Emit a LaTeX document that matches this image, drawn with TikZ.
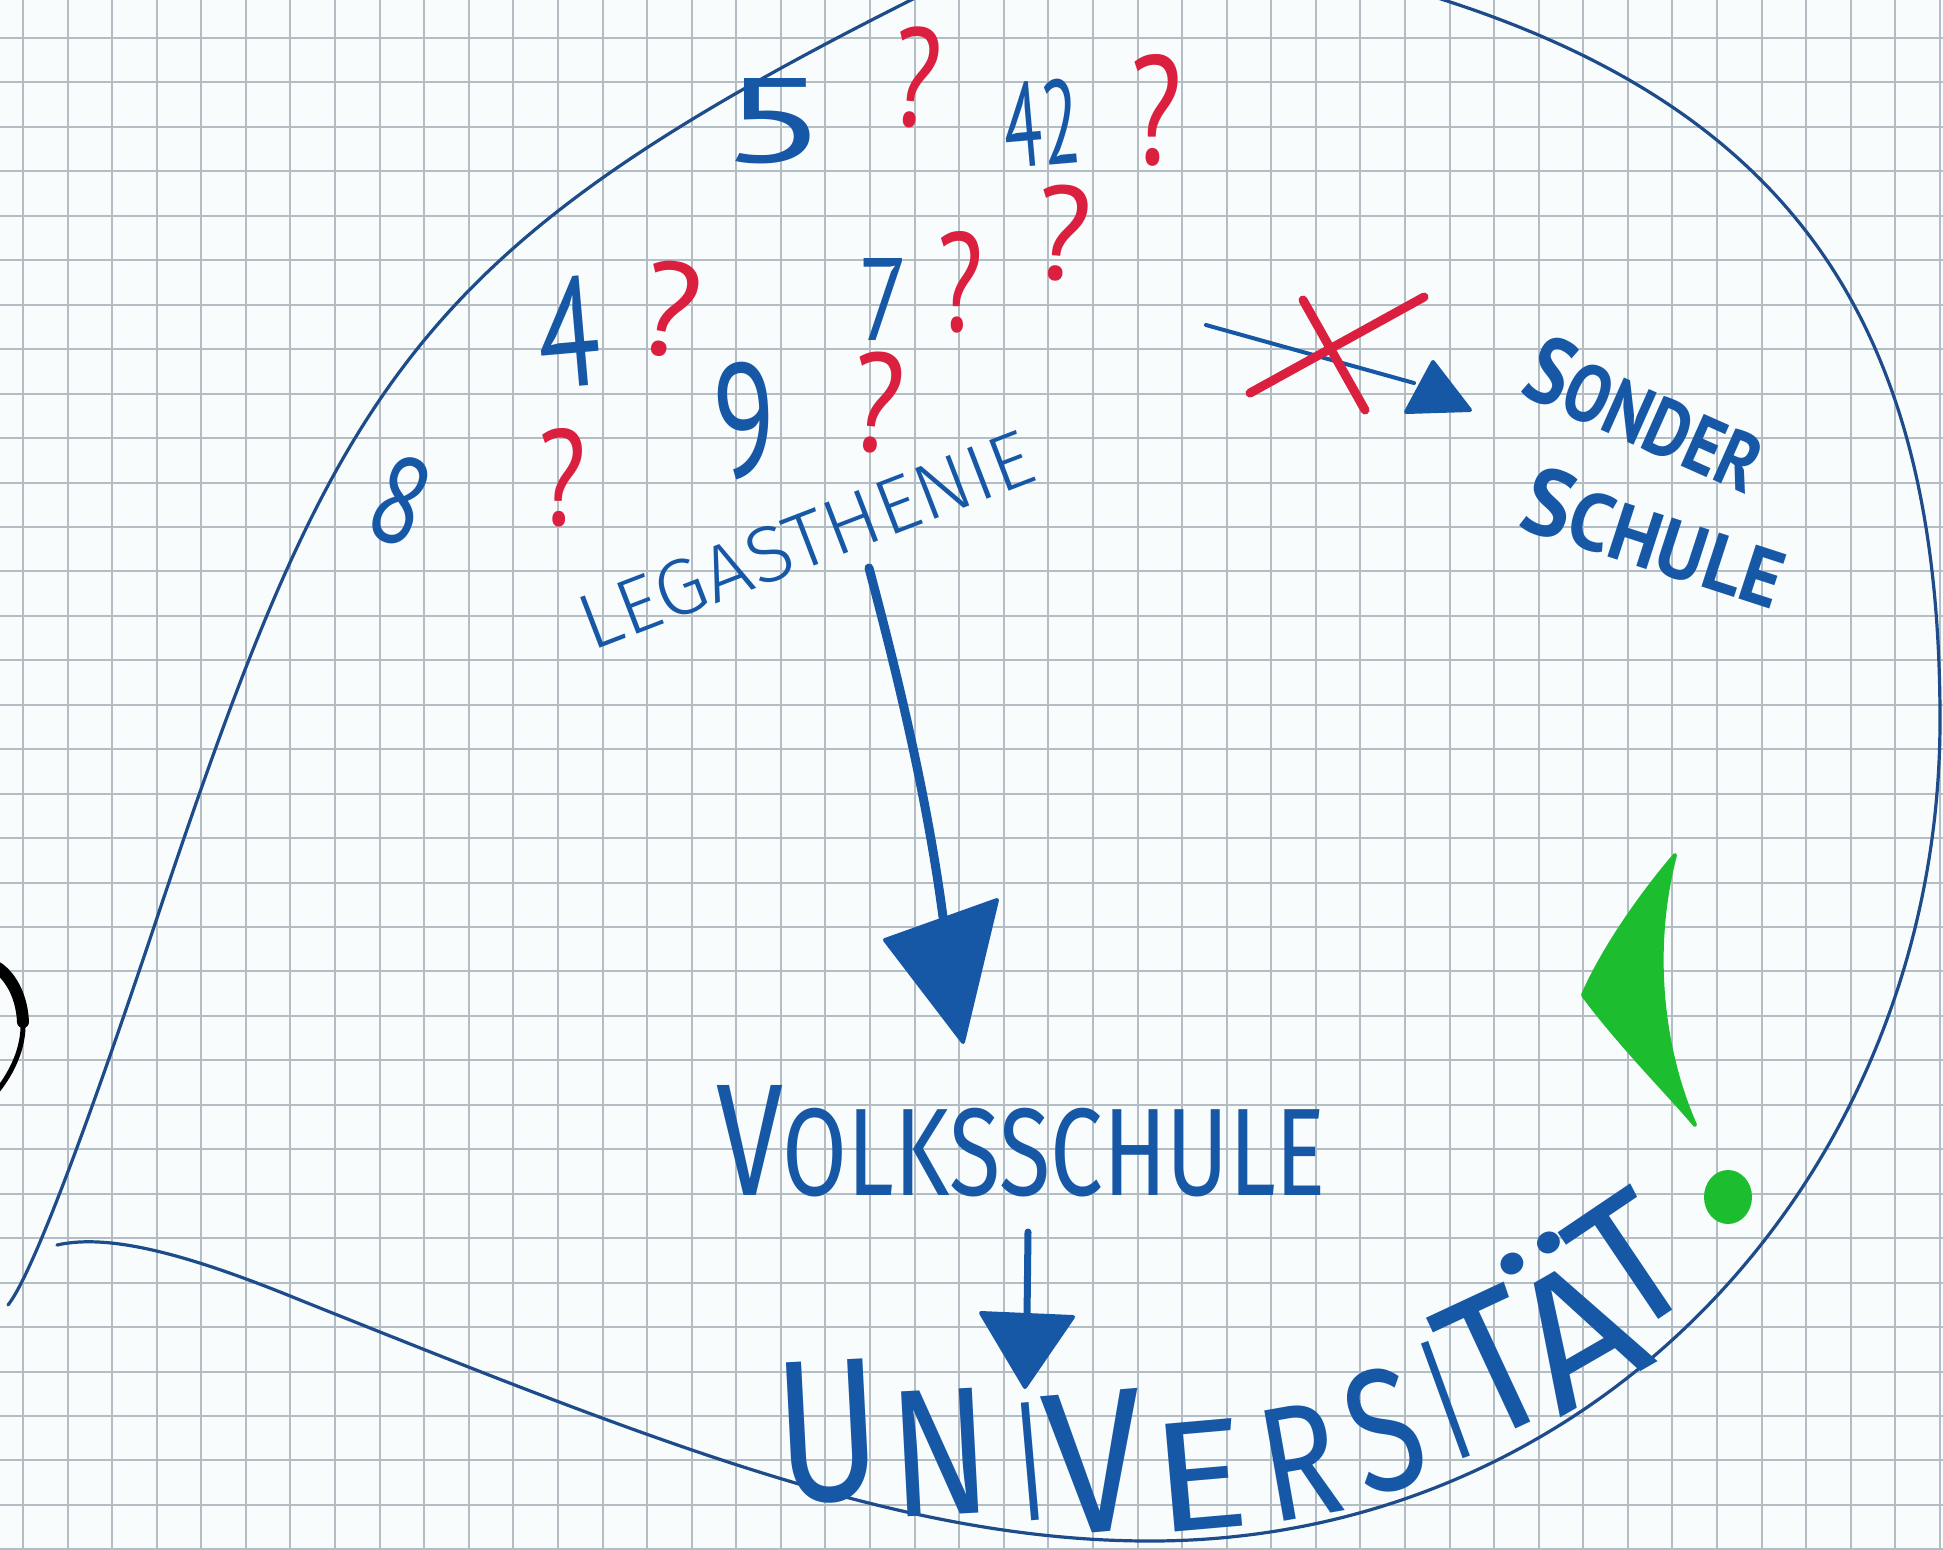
\documentclass[tikz,border=0pt]{standalone}
\usepackage{fontspec}
\usepackage{graphicx}
\newfontfamily\hand{PT Sans}
\IfFontExistsTF{Fira Sans Light}{\newfontfamily\thin{Fira Sans Light}}{\newfontfamily\thin{PT Sans}}
\IfFontExistsTF{Fira Sans Book}{\newfontfamily\book{Fira Sans Book}}{\newfontfamily\book{Fira Sans}}
\newfontfamily\medi{Fira Sans}
\newlength\pxu
\setlength\pxu{0.5pt}
\newcommand\fitb[3]{\resizebox{#1\pxu}{#2\pxu}{#3}}
\definecolor{paper}{RGB}{249,252,253}
\definecolor{gridc}{RGB}{180,189,196}
\definecolor{bubc}{RGB}{30,76,138}
\definecolor{inkblue}{RGB}{22,88,166}
\definecolor{inkred}{RGB}{218,32,62}
\definecolor{inkgreen}{RGB}{28,190,48}
\begin{document}
\begin{tikzpicture}[x=0.5pt,y=-0.5pt,
  gridline/.style={draw=gridc, line width=1pt},
  bubble/.style={draw=bubc, line width=1.6pt, line cap=round, line join=round},
  txt/.style={inner sep=0pt, outer sep=0pt, text=inkblue, font=\hand},
  thintxt/.style={txt, font=\thin},
  unitxt/.style={txt, font=\book},
  qm/.style={txt, text=inkred},
  arrowline/.style={draw=inkblue, line cap=round},
  tipfill/.style={fill=inkblue, draw=inkblue, line join=round, line width=2pt},
  cross/.style={draw=inkred, line width=4.5pt, line cap=round}]
\useasboundingbox (0,0) rectangle (1943,1549);
\fill[paper] (0,0) rectangle (1943,1549);
\begin{scope}
\clip (0,0) rectangle (1943,1549);
% grid paper
\foreach \i in {0,...,43} \draw[gridline] ({23+44.58*\i},0) -- ({23+44.58*\i},1549);
\foreach \j in {0,...,34} \draw[gridline] (0,{38+44.45*\j}) -- (1943,{38+44.45*\j});
% speech bubble
\draw[bubble] (1000,-45) -- (911,0) .. controls (420,247) and (338,379) .. (163,900)
  .. controls (122,1023) and (40,1265) .. (8,1305);
\draw[bubble] (57,1245) .. controls (110,1233) and (190,1255) .. (300,1300)
  .. controls (650,1440) and (900,1541) .. (1150,1541)
  .. controls (1600,1541) and (1940,1170) .. (1940,720)
  .. controls (1940,340) and (1805,116) .. (1444,0) -- (1350,-30);
% black figure at the left edge
\draw[black, line width=6pt, line cap=round] (-2,968) .. controls (12,978) and (22,998) .. (23,1022);
\draw[black, line width=2.5pt, line cap=round] (23,1022) .. controls (24,1048) and (12,1072) .. (-2,1090);
% numbers and question marks
\node[txt] (n5) at (774,121) {\fitb{108}{84}{5}};
\node[qm, rotate=-5] (q1) at (917,78) {\fitb{48}{100}{?}};
\node[txt, rotate=5] (n42) at (1042,123) {\fitb{76}{85}{42}};
\node[qm] (q2) at (1156,110) {\fitb{52}{110}{?}};
\node[qm, rotate=-5] (q3) at (1063,233) {\fitb{55}{95}{?}};
\node[qm] (q4) at (960,282) {\fitb{46}{100}{?}};
\node[txt] (n7) at (883,299) {\fitb{50}{82}{7}};
\node[qm, rotate=-5] (q5) at (878,403) {\fitb{52}{100}{?}};
\node[txt, rotate=5] (n9) at (745,420) {\fitb{62}{115}{9}};
\node[txt, rotate=5] (n4) at (569,332) {\fitb{62}{110}{4}};
\node[qm, rotate=-10] (q6) at (670,310) {\fitb{58}{95}{?}};
\node[qm] (q7) at (562,478) {\fitb{48}{97}{?}};
\node[txt, rotate=-20] (n8) at (401,501) {\fitb{52}{88}{8}};
% Legasthenie
\node[thintxt, rotate=21] (legas) at (806,540) {\fitb{480}{55}{LEGASTHENIE}};
% big arrow
\coordinate (bigA0) at (869,568);
\coordinate (bigA1) at (943,917);
\coordinate (bigT1) at (885,940);
\coordinate (bigT2) at (997,900);
\coordinate (bigT3) at (963,1042);
\draw[arrowline, line width=4.5pt] (bigA0) .. controls (888,640) and (925,780) .. (bigA1);
\filldraw[tipfill] (bigT1) -- (bigT2) -- (bigT3) -- cycle;
% Volksschule
\node[txt, font=\medi, anchor=south west] (volks) at (716,1197) {\fitb{610}{110}{V\scalebox{.78}{OLKSSCHULE}}};
% small arrow
\coordinate (smA0) at (1028,1232);
\coordinate (smA1) at (1027,1318);
\coordinate (smT1) at (981,1313);
\coordinate (smT2) at (1073,1317);
\coordinate (smT3) at (1025,1387);
\draw[arrowline, line width=3.5pt] (smA0) -- (smA1);
\filldraw[tipfill] (smT1) -- (smT2) -- (smT3) -- cycle;
% Universitaet
\node[unitxt, rotate=3] (uU) at (828,1432) {\fitb{105}{140}{U}};
\node[unitxt, rotate=3] (uN) at (940,1452) {\fitb{100}{125}{N}};
\node[unitxt, rotate=5] (uI1) at (1030,1462) {\fitb{24}{118}{I}};
\node[unitxt, rotate=5] (uV) at (1095,1462) {\fitb{100}{140}{V}};
\node[unitxt, rotate=5] (uE) at (1200,1476) {\fitb{95}{108}{E}};
\node[unitxt, rotate=10] (uR) at (1300,1462) {\fitb{78}{112}{R}};
\node[unitxt, rotate=15] (uS) at (1385,1430) {\fitb{72}{122}{S}};
\node[unitxt, rotate=20] (uI2) at (1446,1400) {\fitb{24}{122}{I}};
\node[unitxt, rotate=25] (uT1) at (1494,1363) {\fitb{90}{138}{T}};
\node[unitxt, rotate=30] (uA) at (1567,1317) {\fitb{115}{168}{Ä}};
\node[unitxt, rotate=34] (uT2) at (1630,1262) {\fitb{92}{128}{T}};
% Sonderschule with crossed-out arrow
\coordinate (soA0) at (1206,325);
\coordinate (soA1) at (1414,383);
\coordinate (soT1) at (1406,412);
\coordinate (soT2) at (1433,362);
\coordinate (soT3) at (1470,410);
\draw[arrowline, line width=2pt] (soA0) -- (soA1);
\filldraw[tipfill] (soT1) -- (soT2) -- (soT3) -- cycle;
\coordinate (x1a) at (1303,300);
\coordinate (x1b) at (1365,410);
\coordinate (x2a) at (1250,393);
\coordinate (x2b) at (1424,297);
\draw[cross] (x1a) -- (x1b);
\draw[cross] (x2a) -- (x2b);
\node[txt, rotate=-24] (sonder) at (1646,414) {\fitb{250}{68}{\bfseries S\scalebox{.85}{ONDER}}};
\node[txt, rotate=-18] (schule) at (1655,537) {\fitb{270}{68}{\bfseries S\scalebox{.85}{CHULE}}};
% green exclamation mark
\filldraw[fill=inkgreen, draw=inkgreen, line width=2pt, line join=round]
  (1675,855) .. controls (1645,890) and (1605,945) .. (1583,995)
  .. controls (1620,1045) and (1670,1095) .. (1695,1125)
  .. controls (1662,1050) and (1650,950) .. (1675,855) -- cycle;
\fill[inkgreen] (1728,1197) ellipse [x radius=24, y radius=27];
\end{scope}
\end{tikzpicture}
\end{document}
